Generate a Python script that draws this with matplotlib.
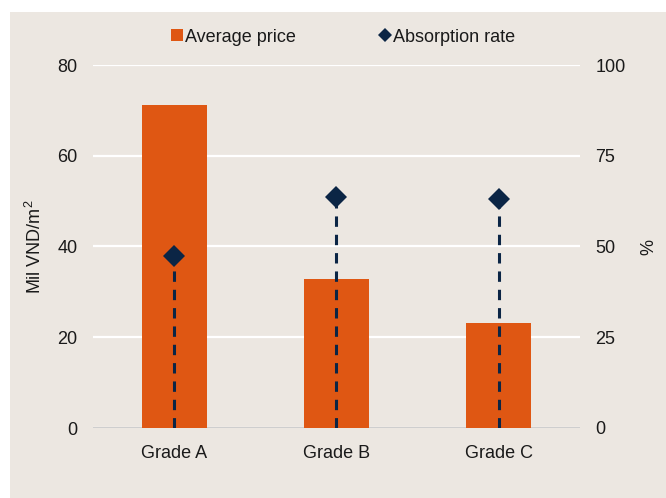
import matplotlib
matplotlib.use("Agg")
import matplotlib.pyplot as plt
from matplotlib.lines import Line2D
from matplotlib.patches import Rectangle

plt.rcParams['font.family'] = ['Liberation Sans', 'DejaVu Sans']
plt.rcParams['mathtext.fontset'] = 'custom'
plt.rcParams['mathtext.rm'] = 'Liberation Sans'

grades = ['Grade A', 'Grade B', 'Grade C']
avg_price = [71.1, 32.9, 23.1]         # Mil VND/m2
absorption = [47.5, 63.6, 63.1]        # %
price_ticks = [0, 20, 40, 60, 80]
rate_ticks = [0, 25, 50, 75, 100]

bg = '#ECE7E1'
orange = '#DF5713'
navy = '#0B2545'
txt = '#1a1a1a'
fs = 13

fig = plt.figure(figsize=(6.66, 4.98), dpi=100)
fig.patch.set_facecolor('white')
# beige panel behind the chart, leaving a thin white margin top and left
fig.patches.append(Rectangle((10 / 666, 0), 1, 1 - 12 / 498, transform=fig.transFigure,
                             facecolor=bg, edgecolor='none', zorder=-10))

ax = fig.add_axes([93 / 666, 1 - 428 / 498, 487 / 666, 363 / 498])
ax.set_facecolor(bg)
ax.patch.set_alpha(0)

x = list(range(len(grades)))
ax.bar(x, avg_price, width=0.4, color=orange, zorder=2)
ax.set_xlim(-0.5, 2.5)
ax.set_ylim(0, 80)
ax.set_yticks(price_ticks)
ax.set_xticks(x)
ax.set_xticklabels(grades)
ax.grid(axis='y', color='white', linewidth=1.6, zorder=0)
ax.set_axisbelow(True)
for s in ax.spines.values():
    s.set_visible(False)
ax.axhline(0, color='#BFBFBF', linewidth=1.8, zorder=1)
ax.tick_params(axis='y', length=0, pad=11, labelsize=fs, labelcolor=txt)
ax.tick_params(axis='x', length=0, pad=12, labelsize=fs, labelcolor=txt)
ax.set_ylabel('Mil VND/m$^{\\mathrm{2}}$', fontsize=fs, color=txt, labelpad=9)

ax2 = ax.twinx()
ax2.set_ylim(0, 100)
ax2.set_yticks(rate_ticks)
for s in ax2.spines.values():
    s.set_visible(False)
ax2.tick_params(axis='y', length=0, pad=11, labelsize=fs, labelcolor=txt)
ax2.set_ylabel('%', fontsize=fs, color=txt, labelpad=11)
ax2.vlines(x, 0, absorption, colors=navy, linewidth=2.2,
           linestyles=(0, (3.4, 2.6)), zorder=3)
ax2.plot(x, absorption, linestyle='none', marker='D', markersize=11.5,
         color=navy, markeredgewidth=0, zorder=4)

handles = [
    Line2D([], [], linestyle='none', marker='s', markersize=9, color=orange, markeredgewidth=0),
    Line2D([], [], linestyle='none', marker='D', markersize=7.5, color=navy, markeredgewidth=0),
]
fig.legend(handles, ['Average price', 'Absorption rate'], loc='center',
           bbox_to_anchor=(343 / 666, 1 - 37 / 498), ncol=2, frameon=False,
           fontsize=fs, handlelength=0.7, handletextpad=0.1, columnspacing=4.6,
           labelcolor=txt)

fig.savefig('out.png', dpi=100, facecolor=fig.get_facecolor())
